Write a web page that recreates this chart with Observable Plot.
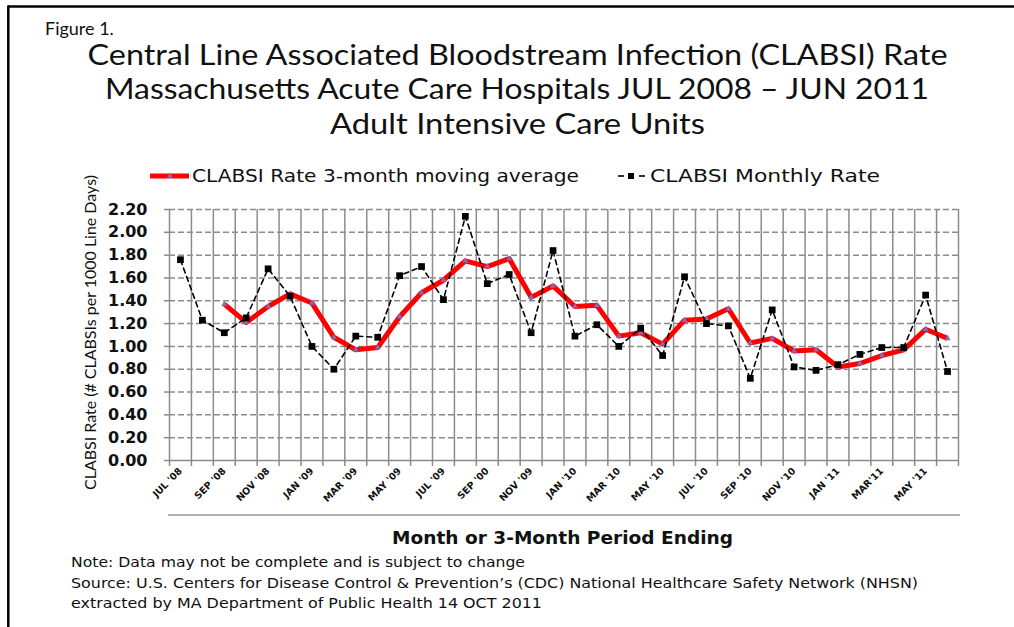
<!DOCTYPE html>
<html>
<head>
<meta charset="utf-8">
<script src="https://cdn.jsdelivr.net/npm/d3@7"></script>
<script src="https://cdn.jsdelivr.net/npm/@observablehq/plot@0.6"></script>
<style>
html, body { margin: 0; padding: 0; background: #fff; }
#wrap { position: relative; width: 1014px; height: 627px; overflow: hidden; background: #fff; }
#chart { position: absolute; left: 0; top: 190px; }
#overlay { position: absolute; left: 0; top: 0; pointer-events: none; }
#chart svg g[aria-label="y-axis tick label"] { font-family: "DejaVu Sans", sans-serif; font-weight: bold; font-size: 16px; fill: #111; }
#chart svg g[aria-label="x-axis tick label"] { font-family: "DejaVu Sans", sans-serif; font-weight: bold; font-size: 9.5px; fill: #111; }
</style>
</head>
<body>
<div id="wrap">
  <div id="chart"></div>
  <svg id="overlay" width="1014" height="627"></svg>
</div>
<script>
// ---- Data ----
const months = [
  "JUL '08","AUG '08","SEP '08","OCT '08","NOV '08","DEC '08",
  "JAN '09","FEB '09","MAR '09","APR '09","MAY '09","JUN '09",
  "JUL '09","AUG '09","SEP '09","OCT '09","NOV '09","DEC '09",
  "JAN '10","FEB '10","MAR '10","APR '10","MAY '10","JUN '10",
  "JUL '10","AUG '10","SEP '10","OCT '10","NOV '10","DEC '10",
  "JAN '11","FEB '11","MAR '11","APR '11","MAY '11","JUN '11"
];
const monthlyRate = [
  1.76, 1.23, 1.12, 1.25, 1.68, 1.44,
  1.00, 0.80, 1.09, 1.08, 1.62, 1.70,
  1.41, 2.14, 1.55, 1.63, 1.12, 1.84,
  1.09, 1.19, 1.00, 1.16, 0.92, 1.61,
  1.20, 1.18, 0.72, 1.32, 0.82, 0.79,
  0.84, 0.93, 0.99, 0.99, 1.45, 0.78
];
const movingAverage = [
  null, null, 1.37, 1.21, 1.35, 1.46,
  1.38, 1.08, 0.97, 0.99, 1.26, 1.47,
  1.58, 1.75, 1.70, 1.77, 1.43, 1.53,
  1.35, 1.36, 1.09, 1.12, 1.02, 1.23,
  1.24, 1.33, 1.03, 1.07, 0.96, 0.97,
  0.82, 0.85, 0.92, 0.97, 1.15, 1.07
];
const xTickLabels = [
  "JUL '08","SEP '08","NOV '08","JAN '09","MAR '09","MAY '09",
  "JUL '09","SEP '00","NOV '09","JAN '10","MAR '10","MAY '10",
  "JUL '10","SEP '10","NOV '10","JAN '11","MAR'11","MAY '11"
];
const yTickValues = [0, 0.2, 0.4, 0.6, 0.8, 1.0, 1.2, 1.4, 1.6, 1.8, 2.0, 2.2];

const seriesNames = ["CLABSI Rate 3-month moving average", "CLABSI Monthly Rate"];

// ---- Build table ----
const data = months.map((m, i) => ({ i, month: m, monthly: monthlyRate[i], avg: movingAverage[i] }));
const avgData = data.filter(d => d.avg != null);
const boundaries = months.map((m, i) => i - 0.5).concat([months.length - 0.5]);
const labelPositions = xTickLabels.map((_, k) => 2 * k);

const GRID = "#8c8c8c";

const chart = Plot.plot({
  width: 1014,
  height: 340,
  marginLeft: 169,
  marginRight: 56,
  marginTop: 19,
  marginBottom: 70,
  style: { background: "transparent", overflow: "visible" },
  x: { type: "linear", domain: [-0.5, months.length - 0.5], axis: null },
  y: { domain: [0, 2.2], axis: null },
  marks: [
    // dashed horizontal gridlines
    Plot.ruleY(yTickValues.filter(v => v > 0), { stroke: GRID, strokeWidth: 1.5, strokeDasharray: "6,3" }),
    // vertical gridlines at category boundaries
    Plot.ruleX(boundaries, { y1: 0, y2: 2.2, stroke: GRID, strokeWidth: 1.5 }),
    // x axis tick marks (between categories)
    Plot.axisX({ ticks: boundaries, tickSize: 6, tickFormat: () => "", label: null, stroke: GRID, strokeWidth: 1.5 }),
    // x axis line
    Plot.ruleY([0], { stroke: GRID, strokeWidth: 1.5 }),
    // y axis
    Plot.axisY({ ticks: yTickValues, tickSize: 5, tickPadding: 17, label: null, tickFormat: d => d.toFixed(2), stroke: GRID, strokeWidth: 1.5 }),
    // x tick labels (every other month)
    Plot.axisX({ ticks: labelPositions, tickSize: 0, tickPadding: 9, tickRotate: -45, label: null, tickFormat: (d, k) => xTickLabels[k] }),
    // moving average
    Plot.line(data, { x: "i", y: "avg", stroke: "#ff0000", strokeWidth: 5, strokeLinejoin: "round", strokeLinecap: "butt" }),
    Plot.dot(avgData, { x: "i", y: "avg", symbol: "triangle", r: 2.2, fill: "#7a6fc0", stroke: null }),
    // monthly rate
    Plot.line(data, { x: "i", y: "monthly", stroke: "#000", strokeWidth: 1.6, strokeDasharray: "5,4" }),
    Plot.dot(data, { x: "i", y: "monthly", symbol: "square", r: 3.8, fill: "#000", stroke: null })
  ]
});
document.getElementById("chart").appendChild(chart);

// ---- Titles, legend, notes ----
const ov = d3.select("#overlay");
// page frame
ov.append("line").attr("x1", 8).attr("x2", 1014).attr("y1", 6.5).attr("y2", 6.5).attr("stroke", "#000").attr("stroke-width", 2.5);
ov.append("line").attr("x1", 8.3).attr("x2", 8.3).attr("y1", 5.5).attr("y2", 627).attr("stroke", "#000").attr("stroke-width", 2.5);

function txt(s, o) {
  const t = ov.append("text").text(s)
    .attr("x", o.x).attr("y", o.y)
    .attr("font-family", o.family || "Lato, sans-serif")
    .attr("font-size", o.size)
    .attr("font-weight", o.weight || "normal")
    .attr("fill", o.fill || "#111")
    .attr("text-anchor", o.anchor || "start");
  if (o.len) t.attr("textLength", o.len).attr("lengthAdjust", "spacingAndGlyphs");
  if (o.transform) t.attr("transform", o.transform);
  return t;
}

txt("Figure 1.", { x: 45, y: 35, size: 18 });
txt("Central Line Associated Bloodstream Infection (CLABSI) Rate", { x: 517.5, y: 65, size: 29, anchor: "middle", len: 860 });
txt("Massachusetts Acute Care Hospitals JUL 2008 \u2013 JUN 2011", { x: 517, y: 99, size: 29, anchor: "middle", len: 824 });
txt("Adult Intensive Care Units", { x: 517.5, y: 134, size: 29, anchor: "middle", len: 375 });

// legend
ov.append("line").attr("x1", 150).attr("x2", 189).attr("y1", 176).attr("y2", 176).attr("stroke", "#ff0000").attr("stroke-width", 5);
ov.append("path").attr("d", d3.symbol(d3.symbolTriangle, 15)()).attr("transform", "translate(170,176)").attr("fill", "#7a6fc0");
txt(seriesNames[0], { x: 192, y: 182, size: 18, family: "'DejaVu Sans', sans-serif", len: 387 });
ov.append("line").attr("x1", 618).attr("x2", 624).attr("y1", 176).attr("y2", 176).attr("stroke", "#000").attr("stroke-width", 1.6);
ov.append("rect").attr("x", 628).attr("y", 173).attr("width", 6).attr("height", 6).attr("fill", "#000");
ov.append("line").attr("x1", 639).attr("x2", 645).attr("y1", 176).attr("y2", 176).attr("stroke", "#000").attr("stroke-width", 1.6);
txt(seriesNames[1], { x: 650, y: 182, size: 18, family: "'DejaVu Sans', sans-serif", len: 230 });

// y axis title
txt("CLABSI Rate  (# CLABSIs per 1000 Line Days)", { x: 0, y: 0, size: 16, anchor: "middle", len: 315, transform: "translate(96,332.5) rotate(-90)" });

// separator under tick labels
ov.append("line").attr("x1", 168).attr("x2", 960).attr("y1", 515).attr("y2", 515).attr("stroke", "#9a9a9a").attr("stroke-width", 1.5);

// x axis title
txt("Month or 3-Month Period Ending", { x: 392, y: 544, size: 18, weight: "bold", family: "'DejaVu Sans', sans-serif", len: 341 });

// notes
txt("Note: Data may not be complete and is subject to change", { x: 71, y: 567, size: 14, family: "'DejaVu Sans', sans-serif", len: 454 });
txt("Source:  U.S. Centers for Disease Control & Prevention\u2019s (CDC) National Healthcare Safety Network (NHSN)", { x: 71, y: 588, size: 14, family: "'DejaVu Sans', sans-serif", len: 847 });
txt("extracted by MA Department of Public Health 14 OCT 2011", { x: 71, y: 608, size: 14, family: "'DejaVu Sans', sans-serif", len: 471 });
</script>
</body>
</html>
